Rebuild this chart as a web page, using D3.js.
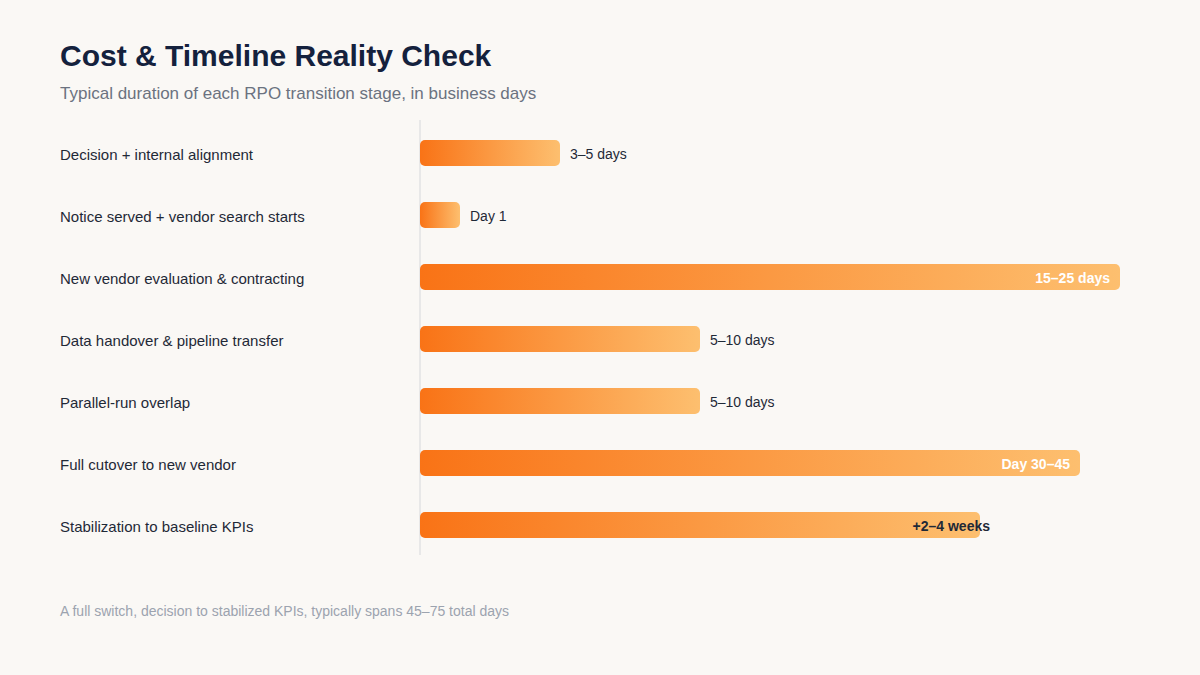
<!DOCTYPE html>
<html>
<head>
<meta charset="utf-8">
<script src="https://cdn.jsdelivr.net/npm/d3@7"></script>
<style>
  html, body { margin: 0; padding: 0; background: #faf8f5; }
  svg { display: block; font-family: "Liberation Sans", Arial, sans-serif; }
</style>
</head>
<body>
<svg id="chart" width="1200" height="675"></svg>
<script>
var stages = ['Decision + internal alignment', 'Notice served + vendor search starts', 'New vendor evaluation & contracting',
    'Data handover & pipeline transfer', 'Parallel-run overlap', 'Full cutover to new vendor', 'Stabilization to baseline KPIs'];
var days = [7, 2, 35, 14, 14, 33, 28];
var labels = ['3–5 days', 'Day 1', '15–25 days', '5–10 days', '5–10 days', 'Day 30–45', '+2–4 weeks'];
// where the value label goes: out = after bar, in = inside white, edge = dark bold over the end
var labelPos = ['out', 'out', 'in', 'out', 'out', 'in', 'edge'];

var svg = d3.select('#chart');
var x0 = 420;

var x = d3.scaleLinear().domain([0, 35]).range([0, 700]);
var y = d3.scaleBand().domain(stages).range([122, 556]).paddingInner(0.58).paddingOuter(0.29);

svg.append('text').attr('x', 60).attr('y', 66)
    .attr('font-size', 30).attr('font-weight', 700).attr('fill', '#14213d')
    .text('Cost & Timeline Reality Check');
svg.append('text').attr('x', 60).attr('y', 99)
    .attr('font-size', 17).attr('fill', '#6b7280')
    .text('Typical duration of each RPO transition stage, in business days');

svg.append('line').attr('x1', x0).attr('x2', x0).attr('y1', 120).attr('y2', 555)
    .attr('stroke', '#e8e8e8').attr('stroke-width', 2);

var defs = svg.append('defs');
stages.forEach(function(d, i){
    var g = defs.append('linearGradient').attr('id', 'grad' + i)
        .attr('x1', '0%').attr('x2', '100%').attr('y1', '0%').attr('y2', '0%');
    g.append('stop').attr('offset', '0%').attr('stop-color', '#f97316');
    g.append('stop').attr('offset', '100%').attr('stop-color', '#fdbf6f');
});

var rows = svg.selectAll('.row').data(stages).enter().append('g').attr('class', 'row');

rows.append('text').attr('x', 60).attr('y', function(d){ return y(d) + y.bandwidth()/2 + 3; })
    .attr('dominant-baseline', 'middle').attr('font-size', 15).attr('fill', '#1f2937')
    .text(function(d){ return d; });

rows.append('rect').attr('x', x0).attr('y', function(d){ return y(d); })
    .attr('width', function(d, i){ return x(days[i]); }).attr('height', y.bandwidth())
    .attr('rx', 5).attr('fill', function(d, i){ return 'url(#grad' + i + ')'; });

rows.append('text')
    .attr('x', function(d, i){
        var end = x0 + x(days[i]);
        if (labelPos[i] == 'in') return end - 10;
        return end + 10;
    })
    .attr('y', function(d){ return y(d) + y.bandwidth()/2 + 2; })
    .attr('dominant-baseline', 'middle')
    .attr('text-anchor', function(d, i){ return labelPos[i] == 'out' ? 'start' : 'end'; })
    .attr('font-size', 14)
    .attr('font-weight', function(d, i){ return labelPos[i] == 'out' ? 400 : 700; })
    .attr('fill', function(d, i){ return labelPos[i] == 'in' ? '#ffffff' : '#1f2937'; })
    .text(function(d, i){ return labels[i]; });

svg.append('text').attr('x', 60).attr('y', 616)
    .attr('font-size', 14).attr('fill', '#9ca3af')
    .text('A full switch, decision to stabilized KPIs, typically spans 45–75 total days');
</script>
</body>
</html>
